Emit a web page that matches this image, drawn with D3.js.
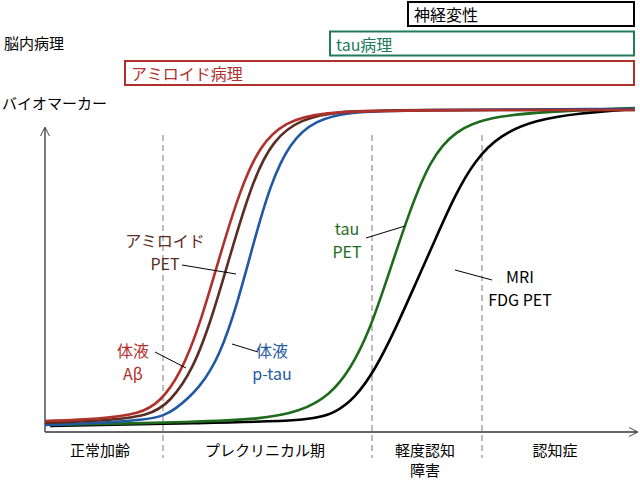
<!DOCTYPE html><html><head><meta charset="utf-8">
<script src="https://cdn.jsdelivr.net/npm/d3@7"></script>
<style>body{margin:0;background:#fff}text{font-family:"Noto Sans CJK JP","Noto Sans",sans-serif}</style></head><body>
<svg id="c" width="640" height="484"></svg>
<script>
const stages=["正常加齢","プレクリニカル期","軽度認知|障害","認知症"];
const stageCenters=[55,220,380,510];
const stageBounds=[118,327,437];
const red=[[0,9],[55,11],[95,16],[115,28],[135,55],[155,105],[175,175],[195,240],[215,285],[240,308],[275,318],[355,320],[590,320]];
const brown=[[0,7],[55,9],[105,14],[125,28],[148,60],[168,115],[188,185],[208,250],[228,290],[255,311],[295,319],[355,320],[590,320]];
const blue=[[0,5],[110,9],[130,20],[155,42],[175,75],[192,125],[208,185],[225,245],[245,288],[270,310],[305,318],[355,320],[590,321]];
const green=[[5,5],[155,8],[215,11],[255,18],[285,35],[305,60],[325,100],[345,160],[365,220],[385,270],[410,300],[445,313],[495,318],[590,322]];
const black=[[5,4],[155,7],[265,9],[290,17],[310,32],[330,60],[350,100],[370,145],[390,190],[410,235],[430,270],[455,295],[490,310],[535,317],[590,321]];
const boxes=[{t:"神経変性",x0:363,c:"#000",row:0},{t:"tau病理",x0:285,c:"#217a5a",row:1},{t:"アミロイド病理",x0:80,c:"#b0302c",row:2}];
const svg=d3.select("#c");
const x=d3.scaleLinear().domain([0,590]).range([45,635]);
const y=d3.scaleLinear().domain([0,320]).range([430,110]);
boxes.forEach(b=>{const top=2+b.row*29.5;
 svg.append("rect").attr("x",x(b.x0)).attr("y",top).attr("width",x(589)-x(b.x0)).attr("height",24).attr("fill","#fff").attr("stroke",b.c).attr("stroke-width",2);
 svg.append("text").attr("x",x(b.x0)+6).attr("y",top+19).attr("font-size",16).attr("fill",b.c).text(b.t);});
svg.append("text").attr("x",4).attr("y",49).attr("font-size",15).text("脳内病理");
svg.append("text").attr("x",2).attr("y",109).attr("font-size",15).text("バイオマーカー");
svg.append("defs").append("marker").attr("id","ar").attr("viewBox","0 0 10 10").attr("refX",9).attr("refY",5).attr("markerWidth",7).attr("markerHeight",7).attr("orient","auto").append("path").attr("d","M0,0L10,5L0,10").attr("fill","none").attr("stroke","#333");
svg.append("line").attr("x1",45).attr("y1",432).attr("x2",45).attr("y2",128).attr("stroke","#333").attr("stroke-width",1.3).attr("marker-end","url(#ar)");
svg.append("line").attr("x1",45).attr("y1",432).attr("x2",637).attr("y2",432).attr("stroke","#333").attr("stroke-width",1.3).attr("marker-end","url(#ar)");
stageBounds.forEach(v=>svg.append("line").attr("x1",x(v)).attr("x2",x(v)).attr("y1",135).attr("y2",458).attr("stroke","#999").attr("stroke-dasharray","6,4").attr("stroke-width",1.3));
stages.forEach((s,i)=>{s.split("|").forEach((p,j)=>svg.append("text").attr("x",x(stageCenters[i])).attr("y",456+j*20).attr("text-anchor","middle").attr("font-size",15).text(p));});
const line=d3.line().x(d=>x(d[0])).y(d=>y(d[1])).curve(d3.curveBasis);
[[black,"#000"],[green,"#1e6b1e"],[blue,"#1f58a4"],[brown,"#5a2d25"],[red,"#b0302c"]].forEach(([d,c])=>svg.append("path").datum(d).attr("d",line).attr("fill","none").attr("stroke",c).attr("stroke-width",2.6));
const labels=[
 {l:["アミロイド","PET"],x:165,y:247,c:"#5a2d25",ln:[182,265,236,274]},
 {l:["体液","Aβ"],x:133,y:357,c:"#b0302c",ln:[155,352,186,368]},
 {l:["体液","p-tau"],x:272,y:357,c:"#1f58a4",ln:[232,344,258,352]},
 {l:["tau","PET"],x:347,y:235,c:"#1e6b1e",ln:[366,238,405,226]},
 {l:["MRI","FDG PET"],x:520,y:283,c:"#000",ln:[455,270,492,280]}];
labels.forEach(o=>{svg.append("line").attr("x1",o.ln[0]).attr("y1",o.ln[1]).attr("x2",o.ln[2]).attr("y2",o.ln[3]).attr("stroke","#000").attr("stroke-width",1);
 o.l.forEach((t,j)=>svg.append("text").attr("x",o.x).attr("y",o.y+j*23).attr("text-anchor","middle").attr("font-size",16).attr("fill",o.c).text(t));});
</script></body></html>
